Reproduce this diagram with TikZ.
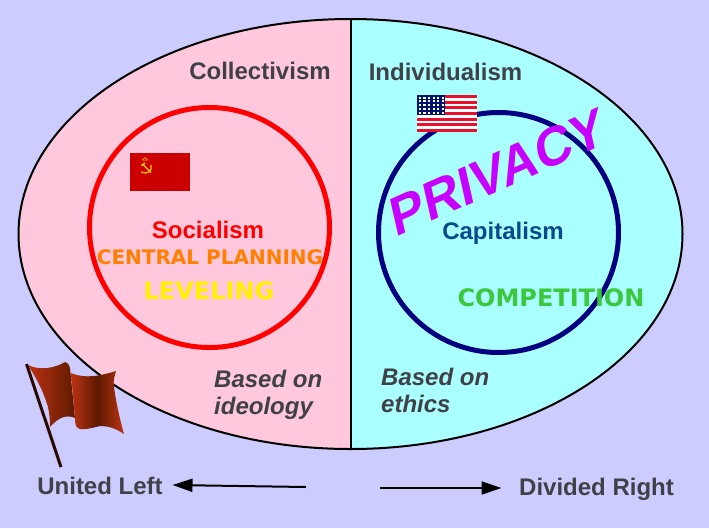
\documentclass[tikz,border=0pt]{standalone}
\usepackage{fontspec}
\setmainfont{Liberation Sans}
\newfontfamily\djv{DejaVu Sans}
\usetikzlibrary{arrows.meta,shadings}
\definecolor{bgc}{HTML}{CCCCFF}
\definecolor{pinkc}{HTML}{FFC8DC}
\definecolor{cyanc}{HTML}{AAFFFF}
\definecolor{darkt}{HTML}{404048}
\definecolor{capc}{HTML}{0A4A8C}
\definecolor{navyc}{HTML}{000080}
\definecolor{orangec}{HTML}{FF7F00}
\definecolor{compc}{HTML}{3CC83C}
\definecolor{privc}{HTML}{C800FF}
\definecolor{usred}{HTML}{E8112D}
\definecolor{usblue}{HTML}{00146E}
\definecolor{sovred}{HTML}{CC0000}
\definecolor{sovy}{HTML}{FFCC00}
\definecolor{flaga}{HTML}{BC3212}
\definecolor{flagb}{HTML}{5E1A00}
\definecolor{polec}{HTML}{2A0A00}
\tikzset{
 lab/.style={font=\fontsize{24}{27}\selectfont\bfseries,text=darkt,inner sep=0pt,align=left},
 slogan/.style={font=\djv\fontsize{#1}{#1}\selectfont\bfseries,inner sep=0pt},
 arr/.style={draw=black,line width=2pt,-{Triangle[length=20pt,width=13pt]}},
 ring/.style={line width=5pt,fill=none}
}
\begin{document}
\begin{tikzpicture}[x=1pt,y=-1pt]
\useasboundingbox (0,0) rectangle (709,528);
\fill[bgc] (0,0) rectangle (709,528);
\coordinate (ec) at (350.5,234);
\begin{scope}
 \clip (ec) ellipse [x radius=332,y radius=215];
 \fill[pinkc] (0,0) rectangle (351,528);
 \fill[cyanc] (351,0) rectangle (709,528);
\end{scope}
\draw[line width=2pt] (ec) ellipse [x radius=332,y radius=215];
\coordinate (dtop) at (351,19);
\coordinate (dbot) at (351,449);
\draw[line width=2pt] (dtop) -- (dbot);
% rings
\draw[ring,red] (209.5,227.5) circle [radius=120];
\draw[ring,navyc] (498.5,232.5) circle [radius=120];
% Soviet flag
\fill[sovred] (130,153) rectangle (190,191);
\draw[sovy,line width=0.5pt] (145,157.5) -- (147.5,160) -- (142.5,160) -- cycle;
\draw[sovy,line width=1.2pt] (141,172) .. controls (147,175) and (153,171) .. (151,165);
\draw[sovy,line width=1.3pt] (143,164.5) -- (151,172.5);
\draw[sovy,line width=1.6pt] (141.5,165.5) -- (145,163);
% US flag
\fill[white] (417,95) rectangle (477,132);
\foreach \i in {0,2,...,12}
 \fill[usred] (417,{95+\i*37/13}) rectangle (477,{95+(\i+1)*37/13});
\fill[usblue] (417,95) rectangle (445,115);
\foreach \r in {0,...,4}{
 \foreach \c in {0,...,5}
  \fill[white] ({418.7+\c*4.6},{96.6+\r*3.8}) rectangle ++(2.2,2);
}
% texts
\node[lab] (coll) at (260,71) {Collectivism};
\node[lab] (indi) at (445.5,71.5) {Individualism};
\node[lab,text=red] (soc) at (208,230) {Socialism};
\node[lab,text=capc] (cap) at (503,233.5) {Capitalism};
\node[slogan=20,text=orangec] (plan) at (210,257) {CENTRAL PLANNING};
\node[slogan=24,text=yellow] (lev) at (209,291) {LEVELING};
\node[slogan=24,text=compc] (comp) at (551,298) {COMPETITION};
\node[inner sep=0pt,text=privc,rotate=24,xslant=0.2,font=\fontsize{53}{53}\selectfont\bfseries] (priv) at (497.5,172) {PRIVACY};
\node[lab,anchor=north west,font=\fontsize{24}{27}\selectfont\bfseries\itshape] (ideo) at (214,370) {Based on\\ideology};
\node[lab,anchor=north west,font=\fontsize{24}{27}\selectfont\bfseries\itshape] (ethi) at (381,368) {Based on\\ethics};
\node[lab] (ul) at (100,486) {United Left};
\node[lab] (dr) at (596.5,489) {Divided Right};
% red flag
\shade[left color=flaga,right color=flagb]
 (28,365) .. controls (40,371) and (55,368) .. (65,362)
 .. controls (68,362) and (69,365) .. (70,368)
 -- (75,418)
 .. controls (66,414) and (58,418) .. (50,427)
 .. controls (50,417) and (49,412) .. (48,407)
 .. controls (43,390) and (36,378) .. (28,365) -- cycle;
\shade[left color=flaga,right color=flaga,middle color=flagb]
 (71,373) .. controls (85,379) and (100,376) .. (116,371)
 .. controls (114,378) and (113,382) .. (114,387)
 .. controls (116,402) and (120,420) .. (124,434)
 .. controls (115,428) and (108,426) .. (100,426)
 .. controls (92,428) and (84,430) .. (80,429)
 .. controls (76,428) and (75,425) .. (75,418) -- cycle;
\coordinate (polet) at (26.5,364);
\coordinate (poleb) at (61,467);
\draw[line width=3pt,color=polec] (polet) -- (poleb);
% arrows
\coordinate (la) at (306,487);
\coordinate (lb) at (172.5,485);
\coordinate (ra) at (380,488);
\coordinate (rb) at (501.5,488);
\draw[arr] (la) -- (lb);
\draw[arr] (ra) -- (rb);
\end{tikzpicture}
\end{document}
